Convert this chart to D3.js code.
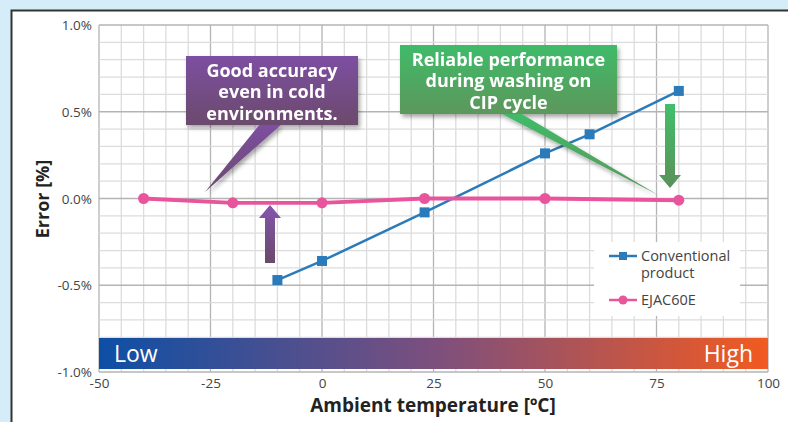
<!DOCTYPE html>
<html>
<head>
<meta charset="utf-8">
<script src="https://cdn.jsdelivr.net/npm/d3@7"></script>
<style>
  body { margin: 0; background: #d5ecf9; }
  svg { display: block; font-family: "Open Sans", "Noto Sans", sans-serif; }
</style>
</head>
<body>
<div id="vis"></div>
<script>
// data
var tempConv = [-10, 0, 23, 50, 60, 80];
var errConv = [-0.47, -0.36, -0.08, 0.26, 0.37, 0.62];
var tempEjac = [-40, -20, 0, 23, 50, 80];
var errEjac = [0.0, -0.025, -0.025, 0.0, 0.0, -0.01];
var xTicks = [-50, -25, 0, 25, 50, 75, 100];
var yTicks = [-1.0, -0.5, 0.0, 0.5, 1.0];

var width = 788;
var height = 422;

var svg = d3.select('#vis').append('svg')
  .attr('width', width)
  .attr('height', height);

var defs = svg.append('defs');

// panel background with dark border left / top
svg.append('rect')
  .attr('x', 11).attr('y', 10)
  .attr('width', width).attr('height', height)
  .attr('fill', '#fff');
svg.append('path')
  .attr('d', 'M11.5,' + height + 'V10.5H' + width)
  .attr('fill', 'none')
  .attr('stroke', '#333')
  .attr('stroke-width', 2);

var x = d3.scaleLinear().domain([-50, 100]).range([99, 768]);
var y = d3.scaleLinear().domain([-1, 1]).range([372, 25]);

var g = svg.append('g');

// grid: minor every 5 degC / 0.1 %, major every 25 degC / 0.5 %
g.append('g').selectAll('line')
  .data(d3.range(-50, 100.1, 5))
  .join('line')
  .attr('x1', function (d) { return x(d); })
  .attr('x2', function (d) { return x(d); })
  .attr('y1', y(1)).attr('y2', y(-1))
  .attr('stroke', function (d) { return d % 25 === 0 ? '#b4b4b4' : '#dcdcdc'; })
  .attr('stroke-width', 1.3);

g.append('g').selectAll('line')
  .data(d3.range(-10, 10.1, 1).map(function (d) { return d / 10; }))
  .join('line')
  .attr('y1', function (d) { return y(d); })
  .attr('y2', function (d) { return y(d); })
  .attr('x1', x(-50)).attr('x2', x(100))
  .attr('stroke', function (d) { return Math.round(d * 10) % 5 === 0 ? '#b4b4b4' : '#dcdcdc'; })
  .attr('stroke-width', 1.3);

// axes (plain hyphen for negatives, as in the original)
var xAxis = d3.axisBottom(x).tickValues(xTicks).tickSize(0).tickPadding(5)
  .tickFormat(function (d) { return String(d); });
var yAxis = d3.axisLeft(y).tickValues(yTicks).tickSize(0).tickPadding(7)
  .tickFormat(function (d) { return d.toFixed(1) + '%'; });

var gx = g.append('g').attr('transform', 'translate(0,' + y(-1) + ')').call(xAxis);
var gy = g.append('g').attr('transform', 'translate(' + x(-50) + ',0)').call(yAxis);
[gx, gy].forEach(function (a) {
  a.select('.domain').remove();
  a.selectAll('text').attr('font-size', 13.5).attr('fill', '#444')
    .attr('font-family', '"Open Sans", sans-serif');
});
gx.selectAll('text').attr('dy', '0.8em');
gy.selectAll('text').attr('dy', '0.35em');

// temperature gradient band
var band = defs.append('linearGradient').attr('id', 'band');
band.append('stop').attr('offset', '0%').attr('stop-color', '#0d4fa6');
band.append('stop').attr('offset', '50%').attr('stop-color', '#7c4f7e');
band.append('stop').attr('offset', '100%').attr('stop-color', '#f25a20');

g.append('rect')
  .attr('x', x(-50)).attr('y', 338)
  .attr('width', x(100) - x(-50)).attr('height', 31)
  .attr('fill', 'url(#band)');
g.append('text').attr('x', x(-50) + 15).attr('y', 362)
  .attr('fill', '#fff').attr('font-size', 23).text('Low');
g.append('text').attr('x', x(100) - 15).attr('y', 362)
  .attr('text-anchor', 'end')
  .attr('fill', '#fff').attr('font-size', 23).text('High');

// axis titles
svg.append('text')
  .attr('transform', 'translate(49,' + 199 + ') rotate(-90)')
  .attr('text-anchor', 'middle')
  .attr('font-size', 18).attr('font-weight', 'bold').attr('fill', '#222')
  .text('Error [%]');
svg.append('text')
  .attr('x', 433).attr('y', 412)
  .attr('text-anchor', 'middle')
  .attr('font-size', 19).attr('font-weight', 'bold').attr('fill', '#222')
  .text('Ambient temperature [ºC]');

// shadow filter for callouts
var shadow = defs.append('filter').attr('id', 'shadow')
  .attr('x', '-20%').attr('y', '-20%').attr('width', '140%').attr('height', '140%');
shadow.append('feDropShadow')
  .attr('dx', 2).attr('dy', 3).attr('stdDeviation', 2)
  .attr('flood-color', '#000').attr('flood-opacity', 0.35);

function vGrad(id, top, bottom) {
  var lg = defs.append('linearGradient').attr('id', id)
    .attr('x1', 0).attr('y1', 0).attr('x2', 0).attr('y2', 1);
  lg.append('stop').attr('offset', '0%').attr('stop-color', top);
  lg.append('stop').attr('offset', '100%').attr('stop-color', bottom);
}
vGrad('purpleBox', '#7d4fa2', '#6b4b6c');
vGrad('greenBox', '#3fbb69', '#5d975b');
vGrad('purpleArrow', '#8455ad', '#6a4a6a');
vGrad('greenArrow', '#41bf6a', '#5a915a');

var line = d3.line()
  .x(function (d) { return d[0]; })
  .y(function (d) { return d[1]; });

// callout: box plus a tail pointing towards the data
function callout(box, tail, fill, lines) {
  var c = g.append('g').attr('filter', 'url(#shadow)');
  c.append('path')
    .attr('d', line(tail) + 'Z')
    .attr('fill', fill);
  c.append('rect')
    .attr('x', box.x).attr('y', box.y)
    .attr('width', box.w).attr('height', box.h)
    .attr('fill', fill);
  c.selectAll('text').data(lines).join('text')
    .attr('x', box.x + box.w / 2)
    .attr('y', function (d, i) { return box.y + 20.5 + i * 21.5; })
    .attr('text-anchor', 'middle')
    .attr('fill', '#fff')
    .attr('font-size', 18)
    .attr('font-weight', 'bold')
    .text(function (d) { return d; });
}

// block arrow
function arrow(cx, yFrom, yTo, fill) {
  var dir = yTo < yFrom ? -1 : 1;
  var headLen = 13;
  var yb = yTo - dir * headLen;
  var pts = [
    [cx - 5, yFrom], [cx - 5, yb], [cx - 11, yb], [cx, yTo],
    [cx + 11, yb], [cx + 5, yb], [cx + 5, yFrom]
  ];
  g.append('path').attr('d', line(pts) + 'Z').attr('fill', fill);
}

// series
var convPts = tempConv.map(function (t, i) { return [x(t), y(errConv[i])]; });
var ejacPts = tempEjac.map(function (t, i) { return [x(t), y(errEjac[i])]; });

g.append('path').attr('d', line(convPts))
  .attr('fill', 'none').attr('stroke', '#2b7bba').attr('stroke-width', 2.5);
g.selectAll('.sq').data(convPts).join('rect')
  .attr('class', 'sq')
  .attr('x', function (d) { return d[0] - 5; })
  .attr('y', function (d) { return d[1] - 5; })
  .attr('width', 10).attr('height', 10)
  .attr('fill', '#2b7bba');

g.append('path').attr('d', line(ejacPts))
  .attr('fill', 'none').attr('stroke', '#e8559c').attr('stroke-width', 3.8);
g.selectAll('.dot').data(ejacPts).join('circle')
  .attr('class', 'dot')
  .attr('cx', function (d) { return d[0]; })
  .attr('cy', function (d) { return d[1]; })
  .attr('r', 5.5)
  .attr('fill', '#e8559c');

// annotations
callout({ x: 186, y: 56, w: 172, h: 69 },
  [[260, 124], [205, 192], [282, 124]],
  'url(#purpleBox)',
  ['Good accuracy', 'even in cold', 'environments.']);
callout({ x: 400, y: 45, w: 217, h: 69 },
  [[500, 113], [658, 195], [520, 113]],
  'url(#greenBox)',
  ['Reliable performance', 'during washing on', 'CIP cycle']);

arrow(270, 263, 205, 'url(#purpleArrow)');
arrow(670, 104, 188, 'url(#greenArrow)');

// legend
var lg = g.append('g');
lg.append('rect').attr('x', 594).attr('y', 242)
  .attr('width', 146).attr('height', 74).attr('fill', '#fff');
var legendItems = [
  { y: 256, color: '#2b7bba', shape: 'square', lines: ['Conventional', 'product'] },
  { y: 300, color: '#e8559c', shape: 'circle', lines: ['EJAC60E'] }
];
legendItems.forEach(function (it) {
  lg.append('line').attr('x1', 609).attr('x2', 637)
    .attr('y1', it.y).attr('y2', it.y)
    .attr('stroke', it.color).attr('stroke-width', 2.5);
  if (it.shape === 'square') {
    lg.append('rect').attr('x', 619).attr('y', it.y - 4)
      .attr('width', 8).attr('height', 8).attr('fill', it.color);
  } else {
    lg.append('circle').attr('cx', 623).attr('cy', it.y).attr('r', 4.5)
      .attr('fill', it.color);
  }
  lg.selectAll(null).data(it.lines).enter().append('text')
    .attr('x', 641)
    .attr('y', function (d, i) { return it.y + 5 + i * 17; })
    .attr('font-size', 14.5).attr('fill', '#444')
    .text(function (d) { return d; });
});
</script>
</body>
</html>
